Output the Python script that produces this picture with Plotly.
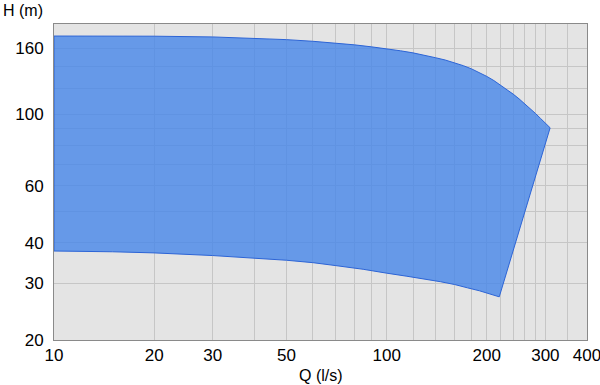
import plotly.graph_objects as go

# Upper boundary (left -> right)
q_upper = [10, 15, 20, 30, 40, 50, 60, 70, 80, 90, 100, 110, 120, 130, 140,
           150, 160, 170, 180, 190, 200, 210, 220, 230, 240, 250, 260, 270,
           280, 290, 300, 310]
h_upper = [174.4, 174.4, 174.2, 173.3, 171.8, 170, 168, 166, 163.8, 161.5,
           159.5, 157, 154.7, 152.2, 149.5, 147, 144.2, 141.2, 138, 134.5,
           130.8, 127, 123, 119.2, 115.3, 111.5, 107.7, 104, 100.5, 97, 93.8,
           90.7]
# Lower boundary (left -> right)
q_lower = [10, 15, 20, 30, 40, 50, 60, 70, 85, 100, 115, 130, 145, 160, 175,
           190, 205, 218]
h_lower = [37.7, 37.5, 37.2, 36.5, 35.9, 35.3, 34.7, 34.0, 33.1, 32.2, 31.5,
           30.9, 30.3, 29.7, 29.0, 28.4, 27.8, 27.2]

x_grid = [10, 20, 30, 40, 50, 60, 70, 80, 90, 100, 120, 140, 160, 180, 200,
          220, 240, 260, 280, 300, 350, 400]
x_labeled = [10, 20, 30, 50, 100, 200, 300, 400]
y_grid = [20, 30, 40, 50, 60, 70, 80, 90, 100, 120, 140, 160]
y_labeled = [20, 30, 40, 60, 100, 160]

poly_q = q_upper + q_lower[::-1] + [q_upper[0]]
poly_h = h_upper + h_lower[::-1] + [h_upper[0]]

fig = go.Figure()
fig.add_trace(go.Scatter(
    x=poly_q, y=poly_h, mode="lines", fill="toself",
    fillcolor="rgba(70,134,233,0.8)",
    line=dict(color="#2c64d6", width=1),
    hoverinfo="skip", showlegend=False))

FAM = "Liberation Sans, Arial, sans-serif"
font = dict(family=FAM, size=17, color="#000")

fig.update_layout(
    width=600, height=385,
    margin=dict(l=54, r=13, t=24, b=45),
    paper_bgcolor="white", plot_bgcolor="#e4e4e4",
    font=font,
    xaxis=dict(type="log", range=[1, 2.6022],
               tickvals=x_grid,
               ticktext=[str(v) if v in x_labeled else "" for v in x_grid],
               showgrid=True, gridcolor="#c6c6c6", gridwidth=1,
               showline=True, linecolor="#8a8a8a", linewidth=1, mirror=True,
               ticks="", zeroline=False, tickfont=font, automargin=False,
               ticklabeloverflow="allow"),
    yaxis=dict(type="log", range=[1.30103, 2.2788],
               tickvals=y_grid,
               ticktext=[str(v) if v in y_labeled else "" for v in y_grid],
               showgrid=True, gridcolor="#c6c6c6", gridwidth=1,
               showline=True, linecolor="#8a8a8a", linewidth=1, mirror=True,
               ticks="", zeroline=False, tickfont=font, automargin=False,
               ticklabeloverflow="allow", ticklabelstandoff=6),
    annotations=[
        dict(text="H (m)", xref="paper", yref="paper", x=-53/533, y=1.0,
             yshift=14, xanchor="left", yanchor="middle", showarrow=False,
             font=dict(family=FAM, size=16, color="#000")),
        dict(text="Q (l/s)", xref="paper", yref="paper", x=0.5, y=0,
             yshift=-35, xanchor="center", yanchor="middle", showarrow=False,
             font=dict(family=FAM, size=16, color="#000")),
    ],
)

fig.write_html("out.html", config={"displayModeBar": False},
               post_script="document.body.style.margin='0';document.body.style.padding='0';")
